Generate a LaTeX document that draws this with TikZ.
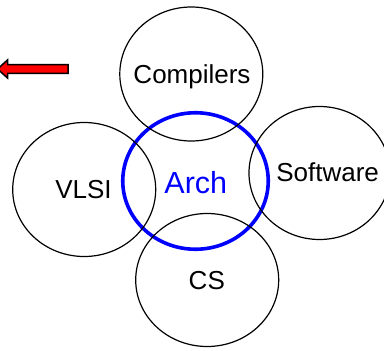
\documentclass[tikz,border=0pt]{standalone}
\usepackage{fontspec}
\setmainfont{Liberation Sans}
\usetikzlibrary{shapes.geometric}
\tikzset{
  field/.style={draw=black, line width=1.2pt, ellipse, inner sep=0pt},
  archfield/.style={draw=blue, line width=3.6pt, ellipse, inner sep=0pt},
  lbl/.style={anchor=base, inner sep=0pt, font=\fontsize{26}{30}\selectfont},
  archlbl/.style={anchor=base, inner sep=0pt, text=blue, font=\fontsize{30.5}{34}\selectfont},
  redarrow/.style={draw=black, fill=red, line width=1.5pt, line join=miter}
}
\begin{document}
\begin{tikzpicture}[x=1pt,y=-1pt]
\useasboundingbox (0,0) rectangle (384,351);
\clip (0,0) rectangle (384,351);
% central field
\node[archfield, minimum width=145.5pt, minimum height=136.5pt] (arch) at (195.5,181) {};
% surrounding fields
\node[field, minimum width=143pt, minimum height=134pt] (comp) at (191.3,74) {};
\node[field, minimum width=143pt, minimum height=134pt] (vlsi) at (84.2,189.5) {};
\node[field, minimum width=141pt, minimum height=133pt] (soft) at (319.5,173) {};
\node[field, minimum width=143pt, minimum height=133pt] (cs) at (207.2,280) {};
% labels
\node[lbl] (tcomp) at (192,83.3) {Compilers};
\node[lbl] (tvlsi) at (83.5,198.3) {VLSI};
\node[lbl] (tsoft) at (327.6,181.7) {Software};
\node[lbl] (tcs) at (206.8,289.3) {CS};
\node[archlbl] (tarch) at (195.8,193.3) {Arch};
% red arrow
\coordinate (atail) at (68,69);
\draw[redarrow] (68,64.6) -- (7.5,64.6) -- (7.5,60) -- (-2.5,69) -- (7.5,78) -- (7.5,73.4) -- (68,73.4) -- cycle;
\end{tikzpicture}
\end{document}
